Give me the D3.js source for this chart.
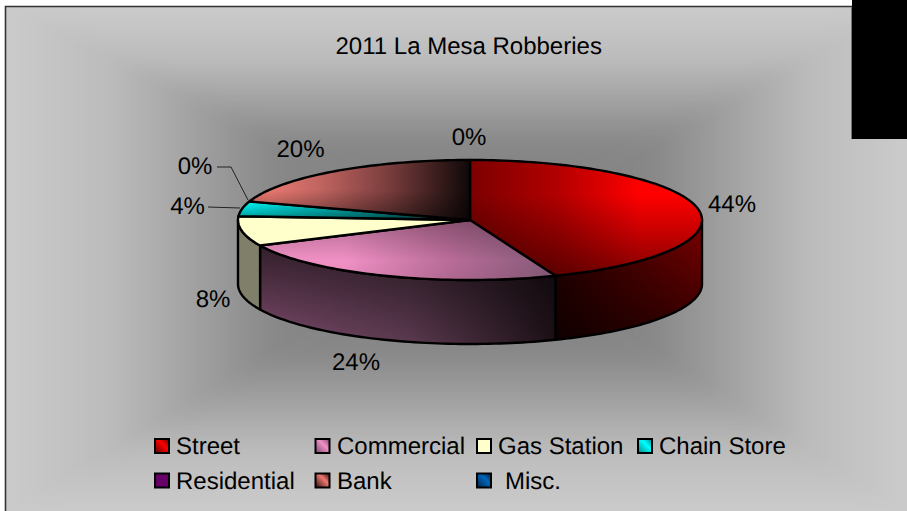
<!DOCTYPE html>
<html><head><meta charset="utf-8"><style>html,body{margin:0;padding:0;background:#fff}svg{display:block}text{font-family:"Liberation Sans",Arial,sans-serif;fill:#000;text-rendering:geometricPrecision}</style>
<script src="https://cdn.jsdelivr.net/npm/d3@7"></script></head><body><svg id="c" width="907" height="511"></svg>
<script>
const categories=["Street","Commercial","Gas Station","Chain Store","Residential","Bank","Misc."];
const values=[44,24,8,4,0,20,0];
const labels=["44%","24%","8%","4%","0%","20%","0%"];
const title="2011 La Mesa Robberies";
const labelX=[732,356,213,187.5,195,300.5,469];
const labelY=[212,370,307,214,174,157,145];
const legendX=[155,315.5,477,638,155,315.5,477];
const legendY=[446,446,446,446,480.5,480.5,480.5];
const legendTextX=[176,337,498,659,176,337,505];
const legendFills=[["#ff0000","#600000"],["#f090c8","#7a4a68"],["#ffffcc","#ffffcc"],["#00ffff","#008888"],["#660066","#660066"],["#f07870","#301010"],["#0066bb","#002244"]];

const svg=d3.select("#c"),defs=svg.append("defs");
const W=907,H=511,fx=6,fy=7,cxBg=470,cyBg=240;
function lin(id,x1,y1,x2,y2,stops){
  const g=defs.append("linearGradient").attr("id",id).attr("gradientUnits","userSpaceOnUse")
    .attr("x1",x1).attr("y1",y1).attr("x2",x2).attr("y2",y2);
  stops.forEach(s=>g.append("stop").attr("offset",s[0]).attr("stop-color",s[1]).attr("stop-opacity",s[2]===undefined?1:s[2]));
}
const bgStops=[[0,"#7a7a7a"],[0.42,"#888888"],[0.6,"#a2a2a2"],[0.78,"#bcbcbc"],[1,"#cbcbcb"]];
lin("bgT",0,cyBg,0,fy,bgStops);lin("bgB",0,cyBg,0,H,bgStops);lin("bgL",cxBg,0,fx,0,bgStops);lin("bgR",cxBg,0,W,0,bgStops);
defs.append("filter").attr("id","soft").attr("x",-0.05).attr("y",-0.05).attr("width",1.1).attr("height",1.1).append("feGaussianBlur").attr("stdDeviation",9);
defs.append("clipPath").attr("id","frame").append("rect").attr("x",fx).attr("y",fy).attr("width",W-fx).attr("height",H-fy);
const bgClip=svg.append("g").attr("clip-path","url(#frame)");
bgClip.append("rect").attr("x",fx).attr("y",fy).attr("width",W-fx).attr("height",H-fy).attr("fill","#c8c8c8");
const bg=bgClip.append("g").attr("filter","url(#soft)");
[["bgT",[[fx-30,fy-30],[W+30,fy-30]]],["bgR",[[W+30,fy-30],[W+30,H+30]]],["bgB",[[W+30,H+30],[fx-30,H+30]]],["bgL",[[fx-30,H+30],[fx-30,fy-30]]]].forEach(d=>{
  bg.append("path").attr("d",d3.line()([[cxBg,cyBg],...d[1]])+"Z").attr("fill","url(#"+d[0]+")").attr("stroke","url(#"+d[0]+")").attr("stroke-width",.5);
});
svg.append("path").attr("d","M5.5 511V6.5H852").attr("fill","none").attr("stroke","#333").attr("stroke-width",1.6);
svg.append("rect").attr("x",852).attr("y",0).attr("width",55).attr("height",139).attr("fill","#000");
svg.append("line").attr("x1",851.5).attr("x2",851.5).attr("y1",7).attr("y2",139).attr("stroke","#777");

svg.append("text").attr("x",468.7).attr("y",54).attr("text-anchor","middle").attr("font-size",24).text(title);

const cx=470,cy=220,rx=232,ry=60,depth=64;
const pie=d3.pie().sort(null).value(d=>d)(values);
const xs=d3.scaleLinear().domain([-1,1]).range([cx-rx,cx+rx]);
const ys=d3.scaleLinear().domain([-1,1]).range([cy-ry,cy+ry]);
const pt=(a,dy=0)=>[xs(Math.sin(a)),ys(-Math.cos(a))+dy];
function rimPts(a0,a1,dy){const n=Math.max(2,Math.ceil((a1-a0)*40)),r=[];for(let i=0;i<=n;i++)r.push(pt(a0+(a1-a0)*i/n,dy));return r;}
const ln=d3.line();
function topPath(d){return ln([[cx,cy],...rimPts(d.startAngle,d.endAngle,0)])+"Z";}
function sidePath(d){
  const a0=Math.max(d.startAngle,Math.PI/2),a1=Math.min(d.endAngle,Math.PI*1.5);
  if(a1<=a0)return null;
  return ln([...rimPts(a0,a1,0),...rimPts(a0,a1,depth).reverse()])+"Z";
}
lin("t0",470,0,640,0,[[0,"#7c0000"],[.5,"#b00000"],[1,"#ff0000"]]);
lin("o0",0,195,0,278,[[0,"#000",0],[1,"#000",.5]]);
lin("t1",345,0,556,0,[[0,"#f090c4"],[.5,"#b86c98"],[1,"#845a78"]]);
lin("o1",0,215,0,280,[[0,"#000",.3],[.7,"#000",0],[1,"#000",.05]]);
lin("t2",0,0,1,0,[[0,"#ffffcc"],[1,"#ffffcc"]]);
lin("t3",250,0,470,0,[[0,"#00ffff"],[.6,"#009999"],[1,"#004444"]]);
lin("o3",0,200,0,218,[[0,"#000",0],[1,"#000",.4]]);
lin("t5",270,0,470,0,[[0,"#e87870"],[.25,"#c06460"],[.6,"#783c3c"],[1,"#100808"]]);
lin("o5",0,165,0,215,[[0,"#000",0],[.5,"#000",0],[1,"#000",.35]]);
lin("s0",556,0,702,0,[[0,"#280000"],[.5,"#500000"],[1,"#780000"]]);
lin("so0",0,225,0,345,[[0,"#000",0],[1,"#000",.65]]);
lin("s1",259,0,556,0,[[0,"#7e4c6c"],[.5,"#5c3a50"],[1,"#1c1016"]]);
lin("so1",0,245,0,345,[[0,"#000",.6],[1,"#000",0]]);
const topFill=["t0","t1","t2","t3",null,"t5",null],topOver=["o0","o1",null,"o3",null,"o5",null];
const sideFill=["s0","s1",null,null,null,null,null],sideOver=["so0","so1",null,null,null,null,null];
function draw(p,fill){return svg.append("path").attr("d",p).attr("fill",fill);}
function outline(p){svg.append("path").attr("d",p).attr("fill","none").attr("stroke","#000").attr("stroke-width",2.4).attr("stroke-linejoin","round");}
pie.forEach((d,i)=>{
  const p=sidePath(d);if(!p||values[i]===0)return;
  draw(p,sideFill[i]?"url(#"+sideFill[i]+")":"#80806a");
  if(sideOver[i])draw(p,"url(#"+sideOver[i]+")");
  outline(p);
});
pie.forEach((d,i)=>{
  if(values[i]===0)return;
  const p=topPath(d);
  draw(p,"url(#"+topFill[i]+")");
  if(topOver[i])draw(p,"url(#"+topOver[i]+")");
  outline(p);
});
svg.append("path").attr("d","M217 167H231L248 200").attr("fill","none").attr("stroke","#222").attr("stroke-width",1);
svg.append("path").attr("d","M208 207L240 208").attr("fill","none").attr("stroke","#222").attr("stroke-width",1);
labels.forEach((t,i)=>svg.append("text").attr("x",labelX[i]).attr("y",labelY[i]).attr("text-anchor","middle").attr("font-size",24).text(t));

legendFills.forEach((f,i)=>{lin("lg"+i,legendX[i],legendY[i]+7,legendX[i]+14,legendY[i]-7,[[0,f[1]],[.6,f[0]],[1,f[1]]]);
  svg.append("rect").attr("x",legendX[i]).attr("y",legendY[i]-7).attr("width",14).attr("height",14).attr("fill",f[0]===f[1]?f[0]:"url(#lg"+i+")").attr("stroke","#000").attr("stroke-width",2);
  svg.append("text").attr("x",legendTextX[i]).attr("y",legendY[i]+8).attr("font-size",24).text(categories[i]);
});
</script></body></html>
